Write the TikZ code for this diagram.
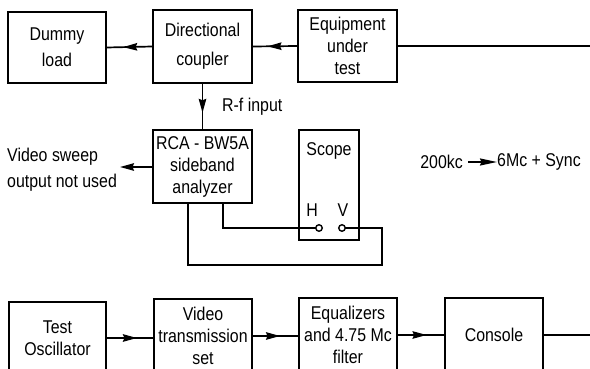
\documentclass[tikz,border=0pt]{standalone}
\usepackage{fontspec}
\setmainfont[FakeStretch=0.86]{Liberation Sans}
\usetikzlibrary{arrows.meta,decorations.markings}
\tikzset{
  box/.style={draw, line width=1.8pt, align=center, inner sep=0pt},
  conn/.style={line width=1.7pt},
  tip/.style={-{Stealth[length=14pt,width=7.5pt,inset=1.5pt]}},
  midarrow/.style={postaction={decorate}, decoration={markings, mark=at position #1 with {\arrow{Stealth[length=14pt,width=7.5pt,inset=1.5pt]}}}},
  lbl/.style={inner sep=0pt, align=left},
  term/.style={circle, draw, line width=1.4pt, fill=white, minimum size=6.5pt, inner sep=0pt}
}
\begin{document}
\begin{tikzpicture}[x=1pt, y=-1pt, font=\fontsize{18.5}{22}\selectfont]
\useasboundingbox (0,0) rectangle (590,369);
\clip (0,0) rectangle (590,369);
\fill[white] (0,0) rectangle (590,369);

% top row
\node[box, minimum width=98pt, minimum height=71pt] (dummy) at (57,47.5) {Dummy\\[4pt]load};
\node[box, minimum width=99pt, minimum height=73pt] (coupler) at (202.5,46.5) {Directional\\[7pt]coupler};
\node[box, minimum width=99pt, minimum height=72pt] (eut) at (347.5,46) {Equipment\\under\\test};
\coordinate (topend) at (592,46);

\draw[conn] (eut.east) -- (topend);
\draw[conn, midarrow=0.67] (eut.west) -- (coupler.east);
\draw[conn, midarrow=0.64] (coupler.west) -- (dummy.east);

% analyzer
\node[box, minimum width=99pt, minimum height=73pt] (rca) at (202.5,166.5) {RCA - BW5A\\sideband\\analyzer};
\draw[conn, midarrow=0.64] (coupler.south) -- (rca.north);
\node[lbl, anchor=west] (rf) at (222,107) {R-f input};

\coordinate (vsend) at (120,167);
\draw[conn, tip] (rca.west |- vsend) -- (vsend);
\node[lbl, anchor=west, font=\fontsize{18.5}{26}\selectfont] (vs) at (7,170) {Video sweep\\output not used};

% scope
\node[box, minimum width=60pt, minimum height=110pt] (scope) at (329,185) {};
\node[lbl] (scopet) at (329,151) {Scope};
\node[lbl] (hl) at (312,210) {H};
\node[lbl] (vl) at (343,210) {V};
\coordinate (vcorner) at (382,265);

\draw[conn] ([xshift=20.5pt]rca.south) |- (319,228) coordinate (hpt);
\draw[conn] ([xshift=-14.5pt]rca.south) |- (vcorner) |- (342,228) coordinate (vpt);
\node[term] (hT) at (hpt) {};
\node[term] (vT) at (vpt) {};

% sweep label
\node[lbl, anchor=east] (f1) at (463,162) {200kc};
\node[lbl, anchor=west] (f2) at (497,162) {6Mc + Sync};
\draw[conn, -{Stealth[length=17pt,width=7pt,inset=1.5pt]}] ([xshift=5pt]f1.east) -- (f2.west);

% bottom row
\node[box, minimum width=97pt, minimum height=72pt] (osc) at (57.5,338) {Test\\Oscillator};
\node[box, minimum width=98pt, minimum height=74pt] (vts) at (203,336) {Video\\transmission\\set};
\node[box, minimum width=98pt, minimum height=74pt] (eq) at (348,335) {Equalizers\\and 4.75 Mc\\filter};
\node[box, minimum width=98pt, minimum height=74pt] (console) at (494,335) {Console};
\coordinate (botend) at (592,333);

\draw[conn, midarrow=0.65] (osc.east) -- (osc.east -| vts.west);
\draw[conn, midarrow=0.6] (vts.east) -- (vts.east -| eq.west);
\draw[conn, midarrow=0.62] (eq.east) -- (eq.east -| console.west);
\draw[conn] (console.east) -- (console.east -| botend);
\end{tikzpicture}
\end{document}
